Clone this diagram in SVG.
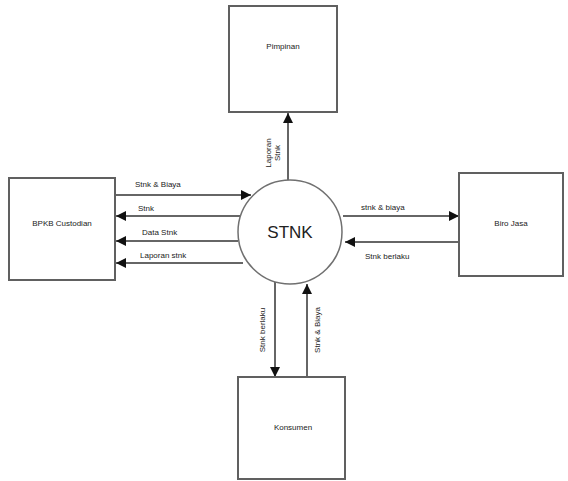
<svg xmlns="http://www.w3.org/2000/svg" width="568" height="481" viewBox="0 0 568 481">
<style>
.box{fill:#fff;stroke:#606060;stroke-width:2}
.c{fill:#fff;stroke:#707070;stroke-width:1.5}
.ln{stroke:#666;stroke-width:2;fill:none;marker-end:url(#ah)}
text{font-family:"Liberation Sans",Arial,sans-serif;font-size:8px;fill:#222}
.big{font-size:17px}
</style>
<defs>
<marker id="ah" viewBox="0 0 10 10" refX="10" refY="5" markerWidth="5" markerHeight="5" orient="auto" markerUnits="strokeWidth"><path d="M0,0L10,5L0,10z" fill="#111"/></marker>
</defs>
<rect width="568" height="481" fill="#fff"/>
<g id="connectors">
<line class="ln" x1="288" y1="180" x2="288" y2="113"/>
<line class="ln" x1="115" y1="195" x2="251" y2="195"/>
<line class="ln" x1="240" y1="216" x2="116" y2="216"/>
<line class="ln" x1="238" y1="241" x2="116" y2="241"/>
<line class="ln" x1="243" y1="263" x2="116" y2="263"/>
<line class="ln" x1="343" y1="216" x2="459" y2="216"/>
<line class="ln" x1="459" y1="242" x2="345" y2="242"/>
<line class="ln" x1="275" y1="282" x2="275" y2="377"/>
<line class="ln" x1="307" y1="377" x2="307" y2="284"/>
<text transform="translate(271,153) rotate(-90)" text-anchor="middle">Laporan</text>
<text transform="translate(280,153) rotate(-90)" text-anchor="middle">Stnk</text>
<text x="135" y="187">Stnk  &amp; Biaya</text>
<text x="138" y="211">Stnk</text>
<text x="142" y="235">Data Stnk</text>
<text x="140" y="258">Laporan stnk</text>
<text x="361" y="210">stnk &amp; biaya</text>
<text x="365" y="259">Stnk berlaku</text>
<text transform="translate(265,330) rotate(-90)" text-anchor="middle">Stnk berlaku</text>
<text transform="translate(320,330) rotate(-90)" text-anchor="middle">Stnk &amp; Biaya</text>
</g>
<g id="pimpinan"><rect class="box" x="229" y="6" width="108" height="106"/><text x="283" y="49" text-anchor="middle">Pimpinan</text></g>
<g id="bpkb"><rect class="box" x="9" y="178" width="106" height="102"/><text x="62" y="226" text-anchor="middle">BPKB Custodian</text></g>
<g id="birojasa"><rect class="box" x="459" y="173" width="104" height="103"/><text x="511" y="226" text-anchor="middle">Biro Jasa</text></g>
<g id="konsumen"><rect class="box" x="238" y="377" width="107" height="102"/><text x="293" y="430" text-anchor="middle">Konsumen</text></g>
<g id="stnk"><circle class="c" cx="290" cy="232" r="52"/><text class="big" x="290" y="238" text-anchor="middle">STNK</text></g>
</svg>
